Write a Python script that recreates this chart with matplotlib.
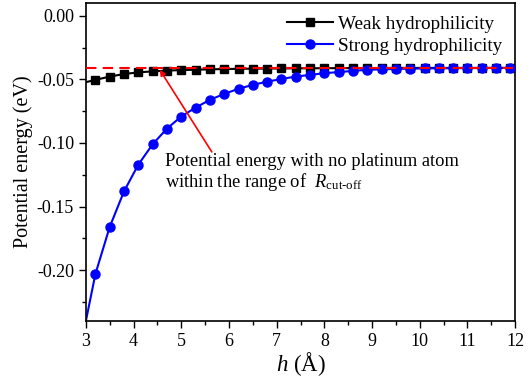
import matplotlib
matplotlib.use("Agg")
import matplotlib.pyplot as plt
from matplotlib.ticker import MultipleLocator, FormatStrFormatter

plt.rcParams['font.family'] = ['Liberation Serif', 'DejaVu Serif']
plt.rcParams['mathtext.fontset'] = 'custom'
plt.rcParams['mathtext.rm'] = 'Liberation Serif'
plt.rcParams['mathtext.it'] = 'Liberation Serif:italic'

# Data
h = [3.2, 3.5, 3.8, 4.1, 4.4, 4.7, 5.0, 5.3, 5.6, 5.9, 6.2, 6.5, 6.8, 7.1, 7.4,
     7.7, 8.0, 8.3, 8.6, 8.9, 9.2, 9.5, 9.8, 10.1, 10.4, 10.7, 11.0, 11.3, 11.6, 11.9]
weak = [-0.0504, -0.0478, -0.0458, -0.0445, -0.0437, -0.0431, -0.0427, -0.0424,
        -0.0421, -0.0419, -0.0417, -0.0416, -0.0415, -0.0414, -0.0413, -0.0413,
        -0.0412, -0.0412, -0.0411, -0.0411, -0.0411, -0.0410, -0.0410, -0.0410,
        -0.0410, -0.0410, -0.0410, -0.0410, -0.0410, -0.0410]
strong = [-0.203, -0.166, -0.138, -0.117, -0.101, -0.0887, -0.0792, -0.0722,
          -0.0661, -0.0614, -0.0574, -0.0543, -0.0518, -0.0497, -0.0478, -0.0465,
          -0.0451, -0.0443, -0.0433, -0.0425, -0.0421, -0.0418, -0.0416, -0.0414,
          -0.0413, -0.0412, -0.0411, -0.0411, -0.0410, -0.0410]
# curve end values at the axis limits
h_ends = [3.0, 12.0]
weak_ends = [-0.0522, -0.0410]
strong_ends = [-0.240, -0.0410]
ref_level = -0.041

fig = plt.figure(figsize=(5.3, 3.8), dpi=100)
ax = fig.add_axes([0.162, 0.155, 0.810, 0.837])

wl_x = [h_ends[0]] + h + [h_ends[1]]
wl_y = [weak_ends[0]] + weak + [weak_ends[1]]
sl_x = [h_ends[0]] + h + [h_ends[1]]
sl_y = [strong_ends[0]] + strong + [strong_ends[1]]

ax.plot(wl_x, wl_y, color='black', lw=1.5, zorder=2)
ax.plot(h, weak, 's', color='black', ms=5.2, zorder=3)
ax.plot(sl_x, sl_y, color='#0000ff', lw=1.5, zorder=2)
ax.plot(h, strong, 'o', color='#0000ff', ms=6.5, zorder=3)
ax.axhline(ref_level, color='red', lw=1.5, ls=(0, (5, 3)), zorder=4)

# legend proxies
ax.plot([], [], '-s', color='black', ms=5.2, lw=1.5, label='Weak hydrophilicity')
ax.plot([], [], '-o', color='#0000ff', ms=6.5, lw=1.5, label='Strong hydrophilicity')
ax.legend(loc='upper right', frameon=False, fontsize=13.8, handlelength=2.4,
          handletextpad=0.3, borderaxespad=0.35, borderpad=0.3, labelspacing=0.25)

ax.set_xlim(3, 12)
ax.set_ylim(-0.24, 0.01)
ax.xaxis.set_major_locator(MultipleLocator(1))
ax.xaxis.set_minor_locator(MultipleLocator(0.5))
ax.yaxis.set_major_locator(MultipleLocator(0.05))
ax.yaxis.set_minor_locator(MultipleLocator(0.025))
ax.yaxis.set_major_formatter(FormatStrFormatter('%.2f'))
ax.tick_params(which='major', direction='out', length=5, width=1, labelsize=13,
               top=False, right=False)
ax.tick_params(which='minor', direction='out', length=3, width=1, top=False, right=False)
for s in ax.spines.values():
    s.set_linewidth(1.2)

ax.set_ylabel('Potential energy (eV)', fontsize=14.5, labelpad=3)
ax.set_xlabel(r'$\mathit{h}$ (Å)', fontsize=16.5, labelpad=0)

ax.annotate('', xy=(4.55, -0.0425), xytext=(5.64, -0.1070),
            arrowprops=dict(arrowstyle='-|>', color='red', lw=1.2,
                            mutation_scale=8, shrinkA=0, shrinkB=0), zorder=5)
ax.text(4.66, -0.1075,
        'Potential energy with no platinum atom\nwithin the range of  '
        r'$\mathit{R}_{\mathrm{cut\text{-}off}}$',
        fontsize=13.3, va='top', ha='left', linespacing=1.1)

fig.savefig('out.png', dpi=100)
